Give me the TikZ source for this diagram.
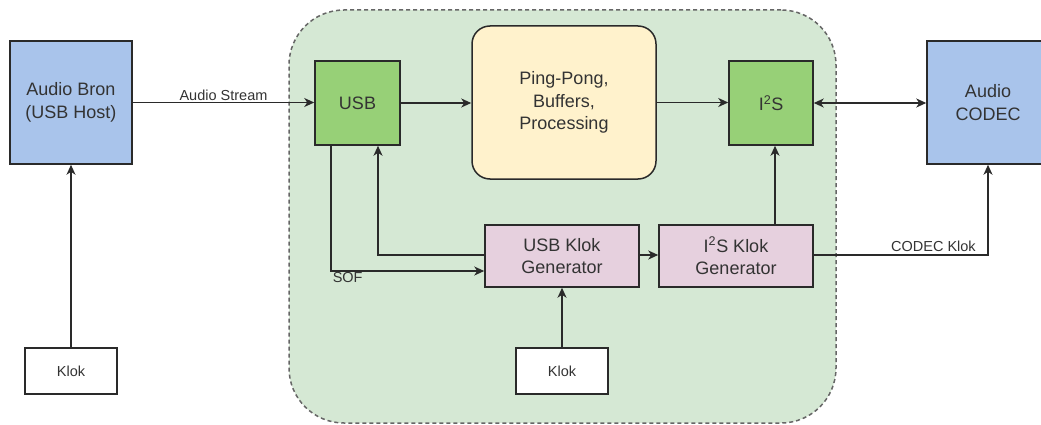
\documentclass[tikz,border=0pt]{standalone}
\usepackage{fontspec}
\setmainfont{Liberation Sans}
\usetikzlibrary{arrows.meta,positioning}
\definecolor{hostblue}{HTML}{A9C4EB}
\definecolor{blockgreen}{HTML}{97D077}
\definecolor{bufyellow}{HTML}{FFF2CC}
\definecolor{clkpink}{HTML}{E6D0DE}
\definecolor{corefill}{HTML}{D5E8D4}
\definecolor{coreline}{HTML}{666666}
\definecolor{ink}{HTML}{333333}
\definecolor{edge}{HTML}{2A2A2A}
\tikzset{
  box/.style={draw=edge, line width=1.5pt, align=center, text=ink,
    font=\fontsize{18}{22.5}\selectfont, inner sep=0pt},
  smallbox/.style={draw=edge, line width=1.5pt, fill=white, align=center, text=ink,
    font=\fontsize{14.5}{17}\selectfont, inner sep=0pt,
    minimum width=92pt, minimum height=46pt},
  lbl/.style={text=ink, font=\fontsize{14.5}{17}\selectfont, inner sep=1.5pt},
  arr/.style={draw=edge, line width=1.5pt,
    -{Stealth[length=10pt,width=9pt,inset=3pt]}},
  biarr/.style={draw=edge, line width=1.5pt,
    {Stealth[length=10pt,width=9pt,inset=3pt]}-{Stealth[length=10pt,width=9pt,inset=3pt]}}
}
\begin{document}
\begin{tikzpicture}[x=1pt,y=-1pt]
\useasboundingbox (0,0) rectangle (1041,425);

% dashed device outline
\node[draw=coreline, fill=corefill, line width=1.5pt, dash pattern=on 4pt off 3pt,
      rounded corners=55pt, minimum width=547pt, minimum height=413pt, inner sep=0pt]
  (core) at (562.5,216.5) {};

% external blocks
\node[box, fill=hostblue, minimum width=122pt, minimum height=123pt]
  (bron) at (71,102.5) {Audio Bron\\(USB Host)};
\node[box, fill=hostblue, minimum width=122pt, minimum height=123pt]
  (codec) at (988,102.5) {Audio\\CODEC};
\node[smallbox] (klokl) at (71,371) {Klok};

% internal blocks
\node[box, fill=blockgreen, minimum width=85pt, minimum height=84pt]
  (usb) at (357.5,103) {USB};
\node[box, fill=bufyellow, rounded corners=18pt, minimum width=184pt, minimum height=153pt]
  (pp) at (564,102.5) {Ping-Pong,\\Buffers,\\Processing};
\node[box, fill=blockgreen, minimum width=84pt, minimum height=84pt]
  (i2s) at (771,103) {I\textsuperscript{2}S};
\node[box, fill=clkpink, minimum width=154pt, minimum height=62pt]
  (usbk) at (562,256) {USB Klok\\Generator};
\node[box, fill=clkpink, minimum width=154pt, minimum height=62pt]
  (i2sk) at (736,256) {I\textsuperscript{2}S Klok\\Generator};
\node[smallbox] (klokc) at (562,371) {Klok};

% data path
\draw[arr] (bron.east) -- (bron.east -| usb.west)
  node[lbl, midway, above] {Audio Stream};
\draw[arr] (usb.east) -- (usb.east -| pp.west);
\draw[arr] (pp.east) -- (pp.east -| i2s.west);
\draw[biarr] (i2s.east) -- (i2s.east -| codec.west);

% clock path
\draw[arr] (klokl.north) -- (bron.south);
\draw[arr] ([xshift=-26.5pt]usb.south) |- ([yshift=-15pt]usbk.west)
  node[lbl, pos=0.5, anchor=north west, inner sep=1pt] {SOF};
\draw[arr] ([yshift=1pt]usbk.west) -| ([xshift=20.5pt]usb.south);
\draw[arr] ([yshift=1pt]usbk.east) -- ([yshift=1pt]i2sk.west);
\draw[arr] ([xshift=4pt]i2s.south |- i2sk.north) -- ([xshift=4pt]i2s.south);
\draw[arr] ([yshift=1pt]i2sk.east) -| (codec.south)
  node[lbl, pos=0.5, anchor=south east, xshift=-10pt, yshift=1pt] {CODEC Klok};
\draw[arr] (klokc.north) -- (usbk.south);
\end{tikzpicture}
\end{document}
